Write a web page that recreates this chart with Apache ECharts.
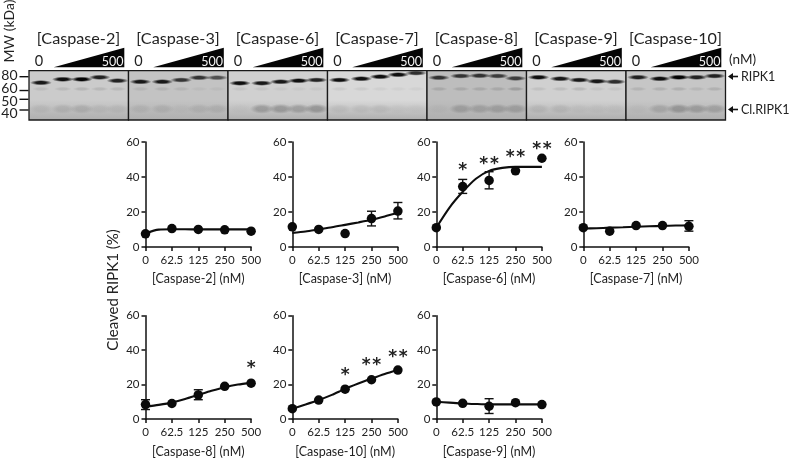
<!DOCTYPE html>
<html><head><meta charset="utf-8">
<style>html,body{margin:0;padding:0;background:#fff}#c{width:789px;height:459px;filter:blur(0.45px)}</style>
<script src="https://cdn.jsdelivr.net/npm/echarts@6/dist/echarts.min.js"></script>
</head><body><div id="c"></div>
<script>
// ---------- data ----------
const doseLabels = ['0','62.5','125','250','500'];
const yTicks = [0,20,40,60];

const caspase2Points = [7.5,10.5,10,9.8,9];
const caspase2Fit    = [7.8,9.9,10.1,10.1,10,10,10,10,10];
const caspase3Points = [11.5,10,7.6,16.2,20.5];
const caspase3Fit    = [8,8.8,10,11.2,12.6,14,15.5,17.4,19.5];
const caspase3High   = [null,null,null,20.4,25.4];
const caspase3Low    = [null,null,null,12,16];
const caspase6Points = [11,34.5,38,43.5,50.7];
const caspase6Fit    = [11,22.5,31.5,39,43.5,45.2,45.8,45.8,45.8];
const caspase6High   = [null,38.6,43,null,null];
const caspase6Low    = [null,30.6,33.2,null,null];
const caspase6Sig    = ['','*','* *','* *','* *'];
const caspase6SigAt  = [null,46.5,49.7,53.5,58.3];
const caspase7Points = [11,9,12.2,12.2,11.8];
const caspase7Fit    = [10.5,10.7,11,11.2,11.5,11.8,12,12.2,12.3];
const caspase7High   = [null,null,null,null,15];
const caspase7Low    = [null,null,null,null,9];
const caspase8Points = [8.4,9,14,19,20.8];
const caspase8Fit    = [7.2,8.2,9.5,11.6,14,16.4,18.5,20,21];
const caspase8High   = [11.2,null,17,null,null];
const caspase8Low    = [5.5,null,11.2,null,null];
const caspase8Sig    = ['','','','','*'];
const caspase8SigAt  = [null,null,null,null,31.8];
const caspase10Points = [6,11,17.3,22.8,28.4];
const caspase10Fit    = [6,8.4,11,14,17.5,20.6,23.5,26.2,28.5];
const caspase10Sig    = ['','','*','* *','* *'];
const caspase10SigAt  = [null,null,28,33.7,38.5];
const caspase9Points = [9.9,9.1,7.4,9.5,8.4];
const caspase9Fit    = [10,9.5,9,8.7,8.5,8.5,8.5,8.5,8.5];
const caspase9High   = [null,null,11.8,null,null];
const caspase9Low    = [null,null,3.2,null,null];

// blot, in gel order
const blotTitles = ['[Caspase-2]','[Caspase-3]','[Caspase-6]','[Caspase-7]','[Caspase-8]','[Caspase-9]','[Caspase-10]'];
const mwLabels = [80,60,50,40];
const ripk1KDa = [
  [70.6,75.8,75.8,79,73.6],[72,72,74.7,78.4,78.4],[69.9,69.9,72,73.6,74.7],
  [74.7,76.7,80,83.4,86.3],[78.4,81.2,81.7,81.2,77.3],[79,76.7,74.7,72.7,72],[79,76.7,79,79,81.2]];
const ripk1Strength = [
  [.9,.95,1,.85,.85],[.9,.9,.75,.75,.6],[.95,.9,.9,.95,.85],
  [.95,.95,.95,.95,.8],[.75,.75,.75,.7,.7],[.95,.9,.9,.9,.8],[.85,.95,1,.85,.85]];
const cleavedStrength = [
  [.08,.12,.15,.08,.08],[.09,.11,.04,.1,.11],[.03,.28,.3,.26,.32],
  [.08,.08,.09,.04,.04],[.04,.22,.2,.22,.22],[.1,.1,.05,.05,.05],[.04,.18,.3,.26,.22]];
const faintStrength = [
  [.1,.12,.15,.13,.12],[.1,.12,.1,.06,.06],[.08,.08,.06,.06,.06],
  [.08,.08,.06,.05,.05],[.16,.16,.16,.16,.24],[.1,.12,.15,.08,.08],[.13,.15,.16,.11,.15]];
const blotGray = ['#cbcbcb','#c3c3c3','#d0d0d0','#d8d8d8','#bdbdbd','#d0d0d0','#c6c6c6'];

// ---------- layout ----------
const FONT = 'Lato';
const INK = '#222';
const panels = [
  {name:'[Caspase-2] (nM)', pts:caspase2Points, fit:caspase2Fit, left:145.5, top:142},
  {name:'[Caspase-3] (nM)', pts:caspase3Points, fit:caspase3Fit, hi:caspase3High, lo:caspase3Low, left:292.3, top:142},
  {name:'[Caspase-6] (nM)', pts:caspase6Points, fit:caspase6Fit, hi:caspase6High, lo:caspase6Low, sig:caspase6Sig, sigAt:caspase6SigAt, left:436.3, top:142},
  {name:'[Caspase-7] (nM)', pts:caspase7Points, fit:caspase7Fit, hi:caspase7High, lo:caspase7Low, left:583.3, top:142},
  {name:'[Caspase-8] (nM)', pts:caspase8Points, fit:caspase8Fit, hi:caspase8High, lo:caspase8Low, sig:caspase8Sig, sigAt:caspase8SigAt, left:145.5, top:315.7},
  {name:'[Caspase-10] (nM)', pts:caspase10Points, fit:caspase10Fit, sig:caspase10Sig, sigAt:caspase10SigAt, left:292.3, top:315.7},
  {name:'[Caspase-9] (nM)', pts:caspase9Points, fit:caspase9Fit, hi:caspase9High, lo:caspase9Low, left:436.3, top:315.7},
];
const grids=[], xAxes=[], yAxes=[], series=[];
panels.forEach((p,i)=>{
  grids.push({left:p.left, top:p.top, width:105.6, height:104.9, containLabel:false});
  xAxes.push({type:'value', gridIndex:i, min:0, max:doseLabels.length-1, interval:1,
    name:p.name, nameLocation:'middle', nameGap:26,
    nameTextStyle:{fontFamily:FONT,fontSize:12.5,color:INK},
    axisLine:{lineStyle:{color:'#111',width:1.5}},
    axisTick:{show:true,length:4,lineStyle:{color:'#111',width:1.5}},
    axisLabel:{show:true,interval:0,margin:7,fontFamily:FONT,fontSize:11.5,color:INK,hideOverlap:false,
      formatter:v=>doseLabels[v]},
    splitLine:{show:false}});
  yAxes.push({type:'value', gridIndex:i, min:yTicks[0], max:yTicks[3], interval:yTicks[1]-yTicks[0],
    axisLine:{show:true,lineStyle:{color:'#111',width:1.5}},
    axisTick:{show:true,length:4,lineStyle:{color:'#111',width:1.5}},
    axisLabel:{margin:6,fontFamily:FONT,fontSize:11.5,color:INK},
    splitLine:{show:false}});
  series.push({type:'line', xAxisIndex:i, yAxisIndex:i, data:p.fit.map((v,k)=>[k/2,v]), symbol:'none', smooth:0.25,
    lineStyle:{color:'#0d0d0d',width:2.1}, silent:true, z:3});
  if(p.hi){
    const data = p.hi.map((h,k)=>[k,h,p.lo[k]]).filter(d=>d[1]!==null);
    series.push({type:'custom', xAxisIndex:i, yAxisIndex:i, data, z:4, silent:true,
      renderItem(params,api){
        const a=api.coord([api.value(0),api.value(1)]), b=api.coord([api.value(0),api.value(2)]);
        const st={stroke:'#111',lineWidth:1.4,fill:null};
        return {type:'group',children:[
          {type:'line',shape:{x1:a[0],y1:a[1],x2:b[0],y2:b[1]},style:st},
          {type:'line',shape:{x1:a[0]-4.5,y1:a[1],x2:a[0]+4.5,y2:a[1]},style:st},
          {type:'line',shape:{x1:b[0]-4.5,y1:b[1],x2:b[0]+4.5,y2:b[1]},style:st}]};
      }});
  }
  series.push({type:'scatter', xAxisIndex:i, yAxisIndex:i, data:p.pts.map((v,k)=>[k,v]), symbol:'circle', symbolSize:9.5,
    itemStyle:{color:'#0a0a0a',opacity:1}, z:5, silent:true});
  if(p.sig){
    const data=p.sig.map((s,k)=>[k,p.sigAt[k],s]).filter(d=>d[2]);
    series.push({type:'custom', xAxisIndex:i, yAxisIndex:i, data, z:6, silent:true,
      renderItem(params,api){
        const c=api.coord([api.value(0),api.value(1)]);
        return {type:'text',x:c[0],y:c[1]+4.5,style:{text:data[params.dataIndex][2].replace(' ','\u200A'),align:'center',verticalAlign:'middle',
          fontFamily:'DejaVu Sans',fontWeight:'bold',fontSize:17,fill:'#222'}};
      }});
  }
});

// header grid: axes run in page pixels, blot features are placed from the arrays above
const H = panels.length;
grids.push({left:0,top:0,width:789,height:459});
xAxes.push({type:'value',gridIndex:H,min:0,max:789,show:false});
yAxes.push({type:'value',gridIndex:H,min:0,max:459,inverse:true,show:false});
const BLOT={l:29,t:70.7,b:120,step:99.5,r:726};
const laneAt=[.12,.34,.53,.71,.89];
const mwY=k=>76.7+33.3*Math.log2(80/k);
const ladderShift={80:-1.5,60:-2,50:2,40:3};
function soft(api,x,y,w,h,color){
  const c=api.coord([x,y]);
  const clear=color.replace(/[\d.]+\)$/,'0)');
  return {type:'circle',x:c[0],y:c[1],scaleX:w/h,shape:{cx:0,cy:0,r:h},
    style:{fill:{type:'radial',x:.5,y:.5,r:.5,colorStops:[{offset:0,color:color},{offset:.45,color:color},{offset:1,color:clear}]}}};
}
series.push({type:'custom',xAxisIndex:H,yAxisIndex:H,data:blotTitles.map((t,i)=>[i]),silent:true,z:1,clip:false,
  renderItem(params,api){
    const i=api.value(0), L=BLOT.l+i*BLOT.step, kids=[];
    const cc=(x,y)=>api.coord([x,y]);
    const a=cc(L,BLOT.t), b=cc(L+BLOT.step,BLOT.b);
    kids.push({type:'rect',shape:{x:a[0],y:a[1],width:b[0]-a[0],height:b[1]-a[1]},style:{fill:{type:'linear',x:0,y:0,x2:0,y2:1,
      colorStops:[{offset:0,color:blotGray[i]},{offset:.6,color:blotGray[i]},{offset:1,color:'rgba(175,175,175,1)'}]}}});
    laneAt.forEach((f,k)=>{
      const x=L+f*BLOT.step;
      kids.push(soft(api,x,mwY(41),12,5,`rgba(60,60,60,${cleavedStrength[i][k]})`));
      kids.push(soft(api,x,mwY(62),9,2.2,`rgba(60,60,60,${faintStrength[i][k]})`));
      kids.push(soft(api,x,mwY(ripk1KDa[i][k]),11,2.7,`rgba(5,5,5,${ripk1Strength[i][k]})`));
    });
    kids.push({type:'rect',shape:{x:a[0],y:a[1],width:b[0]-a[0],height:b[1]-a[1]},style:{fill:'none',stroke:'#1a1a1a',lineWidth:1.3}});
    // wedge, zero and top-dose labels
    const w1=cc(L+24.7,67.2), w2=cc(L+95.3,47.8), w3=cc(L+95.3,67.2);
    kids.push({type:'polygon',shape:{points:[w1,w2,w3]},style:{fill:'#050505'}});
    kids.push({type:'text',x:cc(L+94.5,0)[0],y:cc(0,61.5)[1],style:{text:doseLabels[4],align:'right',verticalAlign:'middle',fontFamily:FONT,fontSize:12.5,fill:'#f4f4f4'}});
    kids.push({type:'text',x:cc(L+10,0)[0],y:cc(0,61.5)[1],style:{text:doseLabels[0],align:'center',verticalAlign:'middle',fontFamily:FONT,fontSize:14.5,fill:INK}});
    kids.push({type:'text',x:cc(L+49.5,0)[0],y:cc(0,39)[1],style:{text:blotTitles[i],align:'center',verticalAlign:'middle',fontFamily:FONT,fontSize:16.2,fill:INK}});
    return {type:'group',children:kids};
  }});
// MW ladder
series.push({type:'custom',xAxisIndex:H,yAxisIndex:H,data:mwLabels.map(m=>[m]),silent:true,z:2,clip:false,
  renderItem(params,api){
    const m=api.value(0), c=api.coord([28.5,mwY(m)]);
    return {type:'group',children:[
      {type:'line',shape:{x1:c[0]-9,y1:c[1],x2:c[0],y2:c[1]},style:{stroke:'#111',lineWidth:1.4}},
      {type:'text',x:c[0]-11,y:c[1]+ladderShift[m],style:{text:String(m),align:'right',verticalAlign:'middle',fontFamily:FONT,fontSize:14,fill:INK}}]};
  }});

const arrow=(y)=>[
  {type:'polygon',shape:{points:[[728,y],[733,y-3.5],[733,y+3.5]]},style:{fill:'#111'}},
  {type:'line',shape:{x1:732,y1:y,x2:738,y2:y},style:{stroke:'#111',lineWidth:1.6}}];
const gtext=(text,x,y,size,extra)=>Object.assign({type:'text',x,y,style:{text,fontFamily:FONT,fontSize:size,fill:INK,align:'left',verticalAlign:'middle'}},extra||{});

const chart=echarts.init(document.getElementById('c'),null,{renderer:'canvas'});
chart.setOption({
  animation:false, backgroundColor:'#fff',
  grid:grids, xAxis:xAxes, yAxis:yAxes, series,
  graphic:[
    ...arrow(76.5), ...arrow(109.5),
    gtext('RIPK1',741,77,12.5),
    gtext('Cl.RIPK1',741,110,12.5),
    gtext('(nM)',729,60,13.5),
    {type:'text',x:9,y:31,rotation:Math.PI/2,style:{text:'MW (kDa)',fontFamily:FONT,fontSize:14,fill:INK,align:'center',verticalAlign:'middle'}},
    {type:'text',x:113,y:290,rotation:Math.PI/2,style:{text:'Cleaved RIPK1 (%)',fontFamily:FONT,fontSize:15,fill:INK,align:'center',verticalAlign:'middle'}},
  ]
});
</script></body></html>
